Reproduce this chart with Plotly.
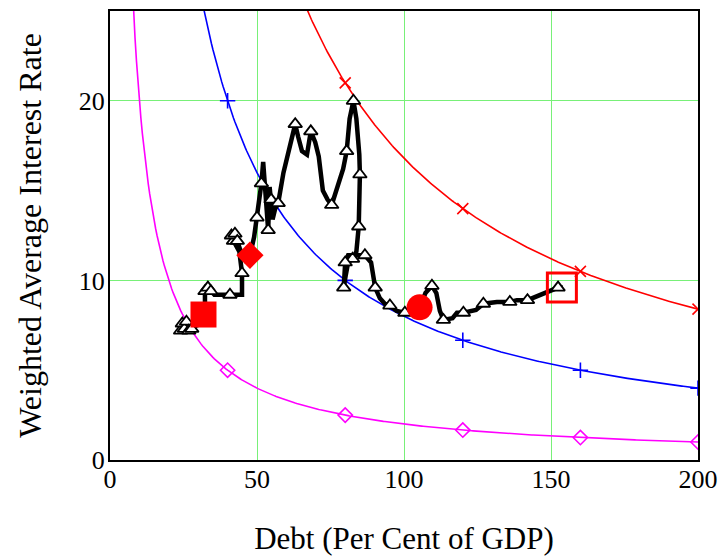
import plotly.graph_objects as go

# Debt (% of GDP) against weighted average interest rate (%), one path over time
debt = [24.0, 24.6, 25.3, 26.0, 26.8, 27.8, 29.5, 32.3, 32.3, 33.3,
        34.3, 35.5, 40.8, 44.9, 44.9, 44.0, 42.0, 41.3, 42.5, 43.3,
        44.3, 46.5, 47.6, 49.0, 50.0, 51.0, 51.5, 52.1, 52.7, 53.2,
        53.8, 54.3, 54.8, 55.3, 56.2, 57.2, 59.0, 60.5, 62.0, 63.0,
        64.0, 65.3, 67.0, 68.3, 69.8, 71.0, 72.4, 74.0, 75.4, 77.0,
        79.3, 80.5, 81.5, 82.8, 83.8, 84.8, 85.0, 84.6, 83.8, 82.5,
        81.0, 80.2, 79.5, 80.0, 81.0, 83.3, 86.7, 88.8, 89.5, 90.2,
        91.8, 93.5, 95.2, 97.5, 100.3, 103.0, 105.4, 107.3, 109.5, 111.0,
        112.2, 113.4, 116.5, 118.0, 120.2, 124.5, 127.0, 131.6, 136.0, 138.4,
        142.0, 145.0, 148.0, 152.4, 154.0]
rate = [7.2, 7.6, 7.3, 7.7, 7.2, 7.3, 7.5, 7.6, 9.4, 9.6,
        9.4, 9.2, 9.2, 9.2, 10.4, 11.6, 12.2, 12.5, 12.6, 12.2,
        11.7, 11.0, 11.4, 12.4, 13.5, 14.8, 15.4, 16.6, 15.0, 13.6,
        12.8, 15.2, 14.5, 13.4, 14.0, 14.3, 16.0, 17.0, 18.0, 18.7,
        18.0, 17.2, 17.0, 18.3, 17.7, 16.9, 15.0, 14.5, 14.2, 15.0,
        16.2, 17.2, 19.0, 20.0, 19.0, 17.0, 15.9, 13.0, 11.6, 11.2,
        11.0, 10.3, 9.6, 11.0, 11.4, 11.4, 11.4, 11.0, 10.3, 9.6,
        9.0, 8.7, 8.6, 8.3, 8.2, 8.3, 8.5, 9.3, 9.7, 9.3,
        8.3, 7.8, 7.9, 8.2, 8.2, 8.35, 8.7, 8.8, 8.8, 8.9,
        8.9, 9.1, 9.35, 9.6, 9.6]
# points of the path that carry a triangle marker
marked = [0, 1, 2, 3, 4, 5, 8, 9, 10, 12, 14, 16, 17, 18, 19, 24, 26, 30, 32,
          35, 39, 43, 48, 51, 53, 56, 57, 59, 62, 63, 66, 69, 72, 74, 78, 81,
          84, 86, 88, 90, 93]

# interest burden (% of GDP) held constant along each curve: rate = burden*100/debt
burden_levels = [2.0, 8.0, 16.8]
burden_colors = ["#ff00ff", "#0000ff", "#ff0000"]
burden_symbols = ["diamond-open", "cross-thin-open", "x-thin-open"]
curve_marker_debt = [40, 80, 120, 160, 200]

# highlighted episodes
highlight_debt = [31.8, 47.6, 105.3]
highlight_rate = [8.1, 11.4, 8.5]
highlight_symbols = ["square", "diamond", "circle"]
current_debt = [153.7]
current_rate = [9.6]

fig = go.Figure()

grid_x = [1 + i * 0.5 for i in range(399)]
for level, color, sym in zip(burden_levels, burden_colors, burden_symbols):
    fig.add_trace(go.Scatter(
        x=grid_x, y=[level * 100 / d for d in grid_x], mode="lines",
        line=dict(color=color, width=1.6), hoverinfo="skip", showlegend=False))
    fig.add_trace(go.Scatter(
        x=curve_marker_debt, y=[level * 100 / d for d in curve_marker_debt],
        mode="markers",
        marker=dict(symbol=sym, size=11, color=color, opacity=1,
                    line=dict(color=color, width=1.6)),
        showlegend=False))

fig.add_trace(go.Scatter(
    x=debt, y=rate, mode="lines",
    line=dict(color="black", width=4.5), showlegend=False))
fig.add_trace(go.Scatter(
    x=[debt[i] for i in marked], y=[rate[i] for i in marked], mode="markers",
    marker=dict(symbol="triangle-up", size=12, color="white", opacity=1,
                line=dict(color="black", width=1.8)),
    showlegend=False))

fig.add_trace(go.Scatter(
    x=highlight_debt, y=highlight_rate, mode="markers",
    marker=dict(symbol=highlight_symbols, size=[26, 21, 26], color="#ff0000",
                opacity=1, line=dict(width=0)),
    showlegend=False))
fig.add_trace(go.Scatter(
    x=current_debt, y=current_rate, mode="markers",
    marker=dict(symbol="square-open", size=29, color="#ff0000", opacity=1,
                line=dict(color="#ff0000", width=3)),
    showlegend=False))

font_family = "Liberation Serif, Times New Roman, serif"
axis_common = dict(
    showline=True, linecolor="black", linewidth=2, mirror=True,
    showgrid=True, gridcolor="#78f078", gridwidth=1, zeroline=False,
    automargin=False,
    ticks="", tickfont=dict(family=font_family, size=26, color="black"),
)
fig.update_layout(
    width=723, height=557,
    margin=dict(l=110, r=25, t=11, b=97, autoexpand=False),
    paper_bgcolor="white", plot_bgcolor="white",
    font=dict(family=font_family, color="black"),
    xaxis=dict(range=[0, 200], tickvals=[0, 50, 100, 150, 200],
               ticklabelstandoff=-5,
               title=dict(text="Debt (Per Cent of GDP)",
                          font=dict(family=font_family, size=31), standoff=34),
               **axis_common),
    yaxis=dict(range=[0, 25], tickvals=[0, 10, 20],
               ticklabelstandoff=-2,
               title=dict(text="Weighted Average Interest Rate",
                          font=dict(family=font_family, size=32), standoff=28),
               **axis_common),
)

fig.write_html("out.html")
